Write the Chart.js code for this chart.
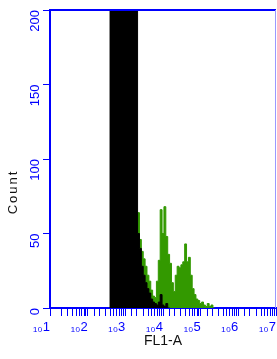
<!DOCTYPE html>
<html>
<head>
    <meta charset="UTF-8">
    <script src="https://cdn.jsdelivr.net/npm/chart.js"></script>
    <style>
        html, body { margin: 0; padding: 0; background: #fff; }
        #wrap { width: 277px; height: 359px; }
    </style>
</head>
<body>
<div id="wrap"><canvas id="histChart" width="277" height="359"></canvas></div>

<script>
    // histogram bins on the FL1-A axis, in decades (log10)
    const binStartExp = 2.575;
    const binWidthExp = 0.05;

    // black population (off scale on the left, clipped at 200)
    const blackCounts = [260, 420, 610, 780, 900, 960, 940, 880, 760, 620, 470, 340, 250, 215, 205,
        50, 40, 28, 22, 17, 13, 10, 6, 4, 3, 2, 4, 9, 2, 1, 3, 0];

    // green population
    const greenCounts = [0, 0, 1, 1, 2, 3, 4, 6, 9, 14, 20, 30, 42, 55, 62,
        64, 46, 38, 33, 28, 22, 18, 12, 8, 7, 18, 32, 66, 50, 68,
        48, 36, 30, 17, 11, 22, 28, 27, 29, 31, 43, 31, 34, 22, 13,
        9, 6, 5, 3, 4, 2, 1, 3, 1, 2, 0];

    const yTicks = [0, 50, 100, 150, 200];
    const xTitle = 'FL1-A';
    const yTitle = 'Count';

    function toPoints(counts) {
        const pts = counts.map((c, i) => ({ x: Math.pow(10, binStartExp + i * binWidthExp), y: c }));
        pts.push({ x: Math.pow(10, binStartExp + counts.length * binWidthExp), y: 0 });
        return pts;
    }

    const blue = '#0000ff';
    const frame = {
        id: 'frame',
        afterDraw(chart) {
            const a = chart.chartArea, ctx = chart.ctx;
            ctx.save();
            ctx.strokeStyle = blue;
            ctx.lineWidth = 2;
            ctx.beginPath();
            ctx.moveTo(a.left, a.top);
            ctx.lineTo(a.right, a.top);
            ctx.stroke();
            ctx.strokeStyle = '#9999ff';
            ctx.lineWidth = 1;
            ctx.beginPath();
            ctx.moveTo(a.right - 0.5, a.top);
            ctx.lineTo(a.right - 0.5, a.bottom);
            ctx.stroke();

            // axis titles
            ctx.fillStyle = '#111';
            ctx.textAlign = 'center';
            ctx.textBaseline = 'middle';
            ctx.font = '14px "Liberation Sans"';
            ctx.fillText(xTitle, 163, 341);
            ctx.translate(13, 192);
            ctx.rotate(-Math.PI / 2);
            ctx.font = '13px "Liberation Sans"';
            ctx.letterSpacing = '2px';
            ctx.fillText(yTitle, 0, 0);
            ctx.restore();
        }
    };

    new Chart(document.getElementById('histChart'), {
        type: 'line',
        data: {
            datasets: [{
                label: 'black',
                data: toPoints(blackCounts),
                stepped: 'before',
                borderColor: '#000',
                backgroundColor: '#000',
                borderWidth: 1,
                pointRadius: 0,
                fill: 'origin',
                order: 0
            }, {
                label: 'green',
                data: toPoints(greenCounts),
                stepped: 'before',
                borderColor: '#339900',
                backgroundColor: '#339900',
                borderWidth: 1,
                pointRadius: 0,
                fill: 'origin',
                order: 1
            }]
        },
        options: {
            responsive: false,
            animation: false,
            layout: { padding: { top: 10, right: 1, left: 0, bottom: 0 } },
            plugins: { legend: { display: false }, tooltip: { enabled: false } },
            scales: {
                x: {
                    type: 'logarithmic',
                    min: 10,
                    max: 1e7,
                    border: { color: blue, width: 2 },
                    grid: { drawOnChartArea: false, color: blue, tickLength: 8, tickWidth: 1 },
                    ticks: {
                        autoSkip: false,
                        maxRotation: 0,
                        align: 'end',
                        color: blue,
                        padding: 4,
                        font: { family: 'Liberation Sans', size: 13 },
                        callback: v => {
                            const e = Math.log10(v);
                            return Math.abs(e - Math.round(e)) < 1e-6 ? '\u2081\u2080' + Math.round(e) : '';
                        }
                    },
                    afterFit: s => { s.height = 51; s.paddingLeft = 0; s.paddingRight = 0; }
                },
                y: {
                    min: 0,
                    max: 200,
                    border: { color: blue, width: 2 },
                    grid: { drawOnChartArea: false, color: blue, tickLength: 7 },
                    afterBuildTicks: s => { s.ticks = yTicks.map(v => ({ value: v })); },
                    ticks: {
                        color: blue,
                        minRotation: 90,
                        maxRotation: 90,
                        padding: 8,
                        font: { family: 'Liberation Sans', size: 13 }
                    },
                    afterFit: s => { s.width = 50; s.paddingTop = 0; s.paddingBottom = 0; }
                }
            }
        },
        plugins: [frame]
    });
</script>
</body>
</html>
